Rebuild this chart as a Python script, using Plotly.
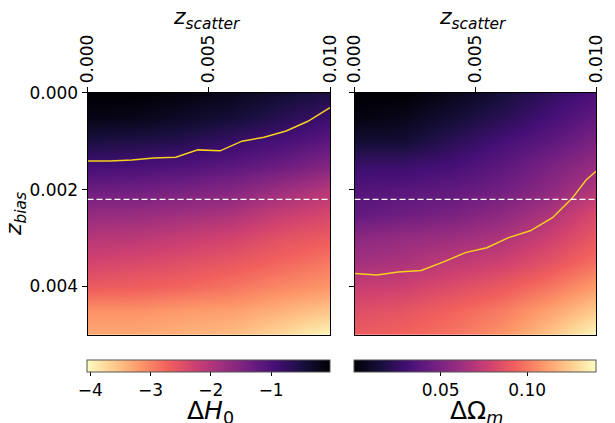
import plotly.graph_objects as go

# ---- data ----
z_scatter = [0.0, 0.002, 0.004, 0.006, 0.008, 0.010]
z_bias = [0.0, 0.0005, 0.001, 0.0015, 0.002, 0.0025, 0.003, 0.0035, 0.004, 0.0045, 0.005]

delta_H0 = [
    [-0.02, -0.02, -0.10, -0.22, -0.38, -0.54],
    [-0.14, -0.18, -0.30, -0.42, -0.62, -0.83],
    [-0.50, -0.54, -0.62, -0.79, -0.95, -1.15],
    [-0.91, -0.95, -1.03, -1.15, -1.31, -1.55],
    [-1.31, -1.35, -1.43, -1.55, -1.79, -2.04],
    [-1.71, -1.75, -1.83, -1.95, -2.20, -2.36],
    [-2.04, -2.08, -2.20, -2.32, -2.52, -2.64],
    [-2.32, -2.40, -2.48, -2.60, -2.76, -2.92],
    [-2.64, -2.68, -2.76, -2.88, -3.04, -3.16],
    [-3.12, -3.12, -3.20, -3.24, -3.40, -3.57],
    [-3.32, -3.32, -3.40, -3.49, -3.73, -4.01],
]

delta_Om = [
    [0.000, 0.000, 0.006, 0.014, 0.024, 0.034],
    [0.003, 0.006, 0.013, 0.021, 0.031, 0.041],
    [0.013, 0.013, 0.022, 0.031, 0.039, 0.050],
    [0.028, 0.028, 0.032, 0.039, 0.049, 0.060],
    [0.036, 0.038, 0.041, 0.046, 0.056, 0.069],
    [0.041, 0.045, 0.049, 0.056, 0.067, 0.083],
    [0.056, 0.059, 0.062, 0.067, 0.077, 0.090],
    [0.064, 0.067, 0.073, 0.078, 0.087, 0.098],
    [0.076, 0.078, 0.084, 0.090, 0.099, 0.111],
    [0.085, 0.088, 0.094, 0.101, 0.112, 0.125],
    [0.091, 0.094, 0.099, 0.108, 0.122, 0.139],
]

# contour-like yellow lines
line_H0_x = [0.0, 0.00093, 0.00183, 0.00273, 0.00364, 0.00455, 0.00547, 0.00637, 0.00728, 0.00819, 0.00909, 0.00959, 0.0100]
line_H0_y = [0.00141, 0.00141, 0.00139, 0.00135, 0.00133, 0.00118, 0.00120, 0.00100, 0.00092, 0.00079, 0.00059, 0.00043, 0.00031]
line_Om_x = [0.0, 0.000925, 0.00182, 0.00276, 0.00369, 0.00459, 0.00548, 0.00638, 0.00728, 0.00820, 0.00901, 0.00959, 0.0100]
line_Om_y = [0.00373, 0.00376, 0.00370, 0.00367, 0.00349, 0.00330, 0.00320, 0.00299, 0.00285, 0.00258, 0.00218, 0.00180, 0.00162]

dashed_level = 0.0022

H0_range = [-4.05, -0.02]
Om_range = [0.0, 0.14]

x_ticks = [0.0, 0.005, 0.010]
x_ticktext = ["0.000", "0.005", "0.010"]
y_ticks = [0.0, 0.002, 0.004]
y_ticktext = ["0.000", "0.002", "0.004"]
H0_cb_ticks = [-4, -3, -2, -1]
H0_cb_text = ["\u22124", "\u22123", "\u22122", "\u22121"]
Om_cb_ticks = [0.05, 0.10]
Om_cb_text = ["0.05", "0.10"]

# ---- layout geometry (page has an 8px body margin) ----
W, H = 615, 423
OFF = 8
FONT = "DejaVu Sans"
TICK = 17

def px_x(p):
    return (p - OFF) / W

def px_y(p):
    return 1 - (p - OFF) / H

L1, R1 = 87.5, 330.0
L2, R2 = 354.5, 596.0
TOP, BOT = 92.7, 335.0
CB_TOP = 359.7
CB_TH = 12

fig = go.Figure()

fig.add_trace(go.Heatmap(
    x=z_scatter, y=z_bias, z=delta_H0, zsmooth="best",
    colorscale="Magma", reversescale=True, zmin=H0_range[0], zmax=H0_range[1],
    xaxis="x", yaxis="y",
    colorbar=dict(
        orientation="h", x=px_x((L1 + R1) / 2), xanchor="center",
        y=px_y(CB_TOP), yanchor="top", len=(R1 - L1) / W, lenmode="fraction",
        thickness=CB_TH, xpad=0, ypad=0, outlinewidth=1, outlinecolor="#555",
        tickmode="array", tickvals=H0_cb_ticks, ticktext=H0_cb_text,
        ticks="outside", ticklen=3.5, tickcolor="black",
        tickfont=dict(family=FONT, size=TICK, color="black"),
    ),
))

fig.add_trace(go.Heatmap(
    x=z_scatter, y=z_bias, z=delta_Om, zsmooth="best",
    colorscale="Magma", zmin=Om_range[0], zmax=Om_range[1],
    xaxis="x2", yaxis="y2",
    colorbar=dict(
        orientation="h", x=px_x((L2 + R2) / 2), xanchor="center",
        y=px_y(CB_TOP), yanchor="top", len=(R2 - L2) / W, lenmode="fraction",
        thickness=CB_TH, xpad=0, ypad=0, outlinewidth=1, outlinecolor="#555",
        tickmode="array", tickvals=Om_cb_ticks, ticktext=Om_cb_text,
        ticks="outside", ticklen=3.5, tickcolor="black",
        tickfont=dict(family=FONT, size=TICK, color="black"),
    ),
))

fig.add_trace(go.Scatter(x=line_H0_x, y=line_H0_y, mode="lines",
                         line=dict(color="#f5d020", width=1.5),
                         xaxis="x", yaxis="y", showlegend=False))
fig.add_trace(go.Scatter(x=line_Om_x, y=line_Om_y, mode="lines",
                         line=dict(color="#f5d020", width=1.5),
                         xaxis="x2", yaxis="y2", showlegend=False))

for xa, ya in (("x", "y"), ("x2", "y2")):
    fig.add_shape(type="line", xref=xa, yref=ya, x0=0, x1=0.01,
                  y0=dashed_level, y1=dashed_level,
                  line=dict(color="white", width=1.3, dash="6px,3px"))

xcommon = dict(range=[0, 0.01], side="top", tickmode="array", tickvals=x_ticks,
               ticktext=x_ticktext, tickangle=-90, ticks="outside", ticklen=5,
               tickcolor="black", showline=True, linecolor="black", linewidth=1,
               mirror=True, showgrid=False, zeroline=False, automargin=False,
               tickfont=dict(family=FONT, size=TICK, color="black"))
ycommon = dict(range=[0.005, 0], tickmode="array", tickvals=y_ticks,
               ticktext=y_ticktext, ticks="outside", ticklen=5,
               tickcolor="black", showline=True, linecolor="black", linewidth=1,
               mirror=True, showgrid=False, zeroline=False, automargin=False,
               tickfont=dict(family=FONT, size=TICK, color="black"))

fig.update_layout(
    width=W, height=H, margin=dict(l=0, r=0, t=0, b=0, autoexpand=False),
    paper_bgcolor="white", plot_bgcolor="white", showlegend=False,
    font=dict(family=FONT, color="black"),
    xaxis=dict(domain=[px_x(L1), px_x(R1)], anchor="y", **xcommon),
    yaxis=dict(domain=[px_y(BOT), px_y(TOP)], anchor="x", **ycommon),
    xaxis2=dict(domain=[px_x(L2), px_x(R2)], anchor="y2", **xcommon),
    yaxis2=dict(domain=[px_y(BOT), px_y(TOP)], anchor="x2", showticklabels=False, **ycommon),
)

ann = [
    dict(text="<i>z</i><sub><i>scatter</i></sub>", x=px_x(207), y=px_y(18), size=22),
    dict(text="<i>z</i><sub><i>scatter</i></sub>", x=px_x(473), y=px_y(18), size=22),
    dict(text="\u0394<i>H</i><sub>0</sub>", x=px_x(210), y=px_y(412), size=25),
    dict(text="\u0394\u03a9<sub><i>m</i></sub>", x=px_x(476), y=px_y(412), size=25),
]
for a in ann:
    fig.add_annotation(text=a["text"], x=a["x"], y=a["y"], xref="paper", yref="paper",
                       showarrow=False, xanchor="center", yanchor="middle",
                       font=dict(family=FONT, size=a["size"], color="black"))
fig.add_annotation(text="<i>z</i><sub><i>bias</i></sub>", x=px_x(15), y=px_y(214),
                   xref="paper", yref="paper", showarrow=False, textangle=-90,
                   xanchor="center", yanchor="middle",
                   font=dict(family=FONT, size=22, color="black"))

fig.write_html("out.html")
